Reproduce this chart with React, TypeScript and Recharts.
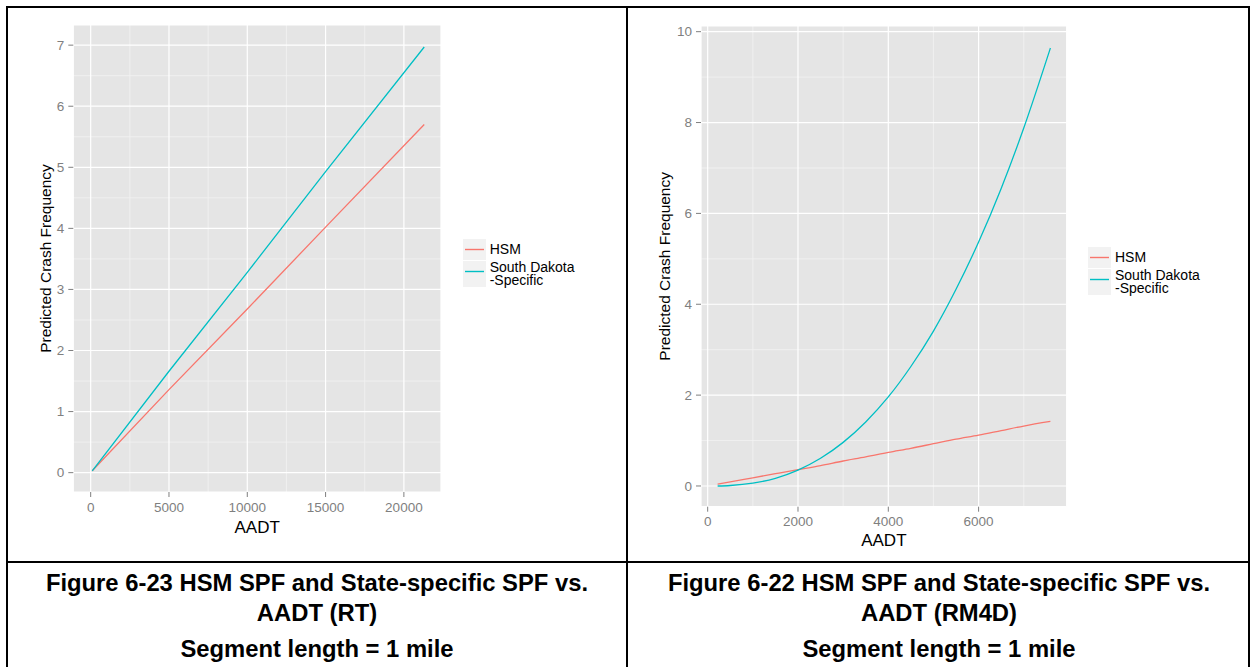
import { CartesianGrid, Label, Legend, Line, LineChart, XAxis, YAxis } from 'recharts'

const FONT = '"Liberation Sans", Arial, Helvetica, sans-serif'
const HSM_COLOR = '#F8766D'
const SD_COLOR = '#00BFC4'
const TICK_GREY = '#7F7F7F'

// Figure 6-23 (RT)
const rtAadt = [100, 5000, 10000, 15000, 21300]
const rtHsm = [0.03, 1.36, 2.68, 4.02, 5.7]
const rtSouthDakota = [0.03, 1.66, 3.28, 4.93, 6.97]
const rtXTicks = [0, 5000, 10000, 15000, 20000]
const rtXMinor = [2500, 7500, 12500, 17500]
const rtYTicks = [0, 1, 2, 3, 4, 5, 6, 7]
const rtYMinor = [0.5, 1.5, 2.5, 3.5, 4.5, 5.5, 6.5]

// Figure 6-22 (RM4D)
const rmAadt = [220, 500, 1000, 1500, 2000, 2500, 3000, 3500, 4000, 4500, 5000, 5500, 6000, 6500, 7000, 7590]
const rmHsm = [0.04, 0.09, 0.18, 0.27, 0.36, 0.45, 0.55, 0.64, 0.74, 0.83, 0.93, 1.03, 1.12, 1.22, 1.32, 1.42]
const rmSouthDakota = [0.0, 0.011, 0.063, 0.17, 0.35, 0.61, 0.96, 1.41, 1.96, 2.63, 3.41, 4.33, 5.37, 6.55, 7.88, 9.64]
const rmXTicks = [0, 2000, 4000, 6000]
const rmXMinor = [1000, 3000, 5000, 7000]
const rmYTicks = [0, 2, 4, 6, 8, 10]
const rmYMinor = [1, 3, 5, 7, 9]

const seriesNames = ['HSM', 'South Dakota\n-Specific']
const seriesColors = [HSM_COLOR, SD_COLOR]

const captions = [
  ['Figure 6-23 HSM SPF and State-specific SPF vs.', 'AADT (RT)', 'Segment length = 1 mile'],
  ['Figure 6-22 HSM SPF and State-specific SPF vs.', 'AADT (RM4D)', 'Segment length = 1 mile']
]

function buildRows(aadt: number[], hsm: number[], sd: number[]) {
  return aadt.map((a, i) => ({ aadt: a, hsm: hsm[i], sd: sd[i] }))
}

function renderLegend(props: any) {
  const payload = props.payload ?? []
  return (
    <div style={{ fontFamily: FONT, fontSize: 14, color: '#000' }}>
      {payload.map((p: any, i: number) => {
        const idx = seriesNames.indexOf(p.value)
        const color = seriesColors[idx >= 0 ? idx : i]
        const h = i === 0 ? 21 : 26
        return (
          <div key={i} style={{ display: 'flex', alignItems: 'center', marginBottom: 1 }}>
            <svg width={23} height={h} style={{ display: 'block' }}>
              <rect x={0} y={0} width={23} height={h} fill="#F2F2F2" />
              <line x1={2} x2={21} y1={10.5} y2={10.5} stroke={color} strokeWidth={1.4} />
            </svg>
            <span style={{ marginLeft: 4, whiteSpace: 'pre-line', lineHeight: '13px' }}>{p.value}</span>
          </div>
        )
      })}
    </div>
  )
}

type PanelProps = {
  rows: Array<{ aadt: number; hsm: number; sd: number }>
  left: number
  width: number
  margin: { top: number; right: number; bottom: number; left: number }
  yAxisWidth: number
  xDomain: [number, number]
  yDomain: [number, number]
  xTicks: number[]
  xMinor: number[]
  yTicks: number[]
  yMinor: number[]
  legendLeft: number
  legendTop: number
  titleOffset: number
  xTitleOffset: number
  curve: 'linear' | 'monotone'
}

function Panel(p: PanelProps) {
  const tick = { fill: TICK_GREY, fontSize: 13.5, fontFamily: FONT }
  return (
    <div style={{ position: 'absolute', left: p.left, top: 0 }}>
      <LineChart width={p.width} height={560} data={p.rows} margin={p.margin}>
        <CartesianGrid fill="#E5E5E5" stroke="#F2F2F2" strokeWidth={0.8} horizontalValues={p.yMinor} verticalValues={p.xMinor} />
        <CartesianGrid stroke="#FFFFFF" strokeWidth={1.2} />
        <XAxis
          type="number"
          dataKey="aadt"
          domain={p.xDomain}
          ticks={p.xTicks}
          interval={0}
          allowDataOverflow
          axisLine={false}
          tickLine={{ stroke: TICK_GREY }}
          tickSize={5}
          tickMargin={5}
          tick={tick}
          height={45}
        >
          <Label value="AADT" position="insideBottom" offset={p.xTitleOffset} fill="#000" fontSize={17} fontFamily={FONT} />
        </XAxis>
        <YAxis
          type="number"
          domain={p.yDomain}
          ticks={p.yTicks}
          interval={0}
          allowDataOverflow
          axisLine={false}
          tickLine={{ stroke: TICK_GREY }}
          tickSize={5}
          tickMargin={4}
          tick={tick}
          width={p.yAxisWidth}
        >
          <Label
            value="Predicted Crash Frequency"
            angle={-90}
            position="insideLeft"
            offset={p.titleOffset}
            fill="#000"
            fontSize={15.5}
            fontFamily={FONT}
            style={{ textAnchor: 'middle' }}
          />
        </YAxis>
        <Legend
          layout="vertical"
          align="center"
          verticalAlign="middle"
          content={renderLegend}
          wrapperStyle={{ left: p.legendLeft, top: p.legendTop, width: 'auto', height: 'auto' }}
        />
        <Line type={p.curve} dataKey="hsm" name={seriesNames[0]} stroke={HSM_COLOR} strokeWidth={1.3} dot={false} isAnimationActive={false} />
        <Line type={p.curve} dataKey="sd" name={seriesNames[1]} stroke={SD_COLOR} strokeWidth={1.3} dot={false} isAnimationActive={false} />
      </LineChart>
    </div>
  )
}

function Caption({ lines, center }: { lines: string[]; center: number }) {
  const tops = [568, 598, 634]
  return (
    <>
      {lines.map((t, i) => (
        <div
          key={i}
          style={{
            position: 'absolute',
            left: center - 310,
            width: 620,
            top: tops[i],
            lineHeight: '30px',
            textAlign: 'center',
            fontWeight: 'bold',
            fontSize: 23.8,
            whiteSpace: 'nowrap'
          }}
        >
          {t}
        </div>
      ))}
    </>
  )
}

export default function App() {
  const line = (s: React.CSSProperties) => <div style={{ position: 'absolute', background: '#000', ...s }} />
  return (
    <div style={{ position: 'absolute', left: 0, top: 0, width: 1250, height: 667, overflow: 'hidden', background: '#fff', fontFamily: FONT }}>
      <Panel
        rows={buildRows(rtAadt, rtHsm, rtSouthDakota)}
        left={0}
        width={627}
        margin={{ top: 25, right: 186, bottom: 23, left: 0 }}
        yAxisWidth={73.3}
        xDomain={[-1110, 22370]}
        yDomain={[-0.317, 7.33]}
        xTicks={rtXTicks}
        xMinor={rtXMinor}
        yTicks={rtYTicks}
        yMinor={rtYMinor}
        legendLeft={462.7}
        legendTop={239}
        titleOffset={45}
        xTitleOffset={4}
        curve="linear"
      />
      <Panel
        rows={buildRows(rmAadt, rmHsm, rmSouthDakota)}
        left={628}
        width={622}
        margin={{ top: 26, right: 183.3, bottom: 8.3, left: 0 }}
        yAxisWidth={73}
        xDomain={[-148, 7951]}
        yDomain={[-0.456, 10.125]}
        xTicks={rmXTicks}
        xMinor={rmXMinor}
        yTicks={rmYTicks}
        yMinor={rmYMinor}
        legendLeft={460}
        legendTop={246.7}
        titleOffset={37}
        xTitleOffset={5.5}
        curve="monotone"
      />
      {line({ left: 7, top: 6, width: 1243, height: 2 })}
      {line({ left: 7, top: 561, width: 1243, height: 2 })}
      {line({ left: 6, top: 6, width: 2, height: 661 })}
      {line({ left: 626, top: 6, width: 2, height: 661 })}
      {line({ left: 1248, top: 6, width: 2, height: 661 })}
      <Caption lines={captions[0]} center={317} />
      <Caption lines={captions[1]} center={939} />
    </div>
  )
}
